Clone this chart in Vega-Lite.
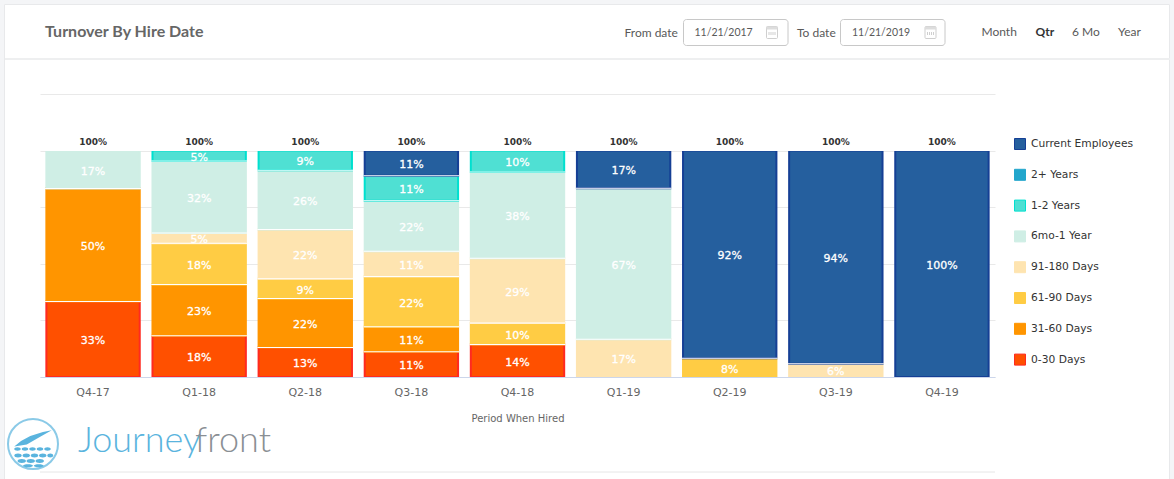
{"$schema":"https://vega.github.io/schema/vega-lite/v6.json","autosize":{"type":"none"},"padding":{"left":40,"top":94,"right":179,"bottom":102},"width":955,"height":283,"background":"#ffffff","config":{"view":{"stroke":null}},"datasets":{"turnover":[
{"quarter":"Q4-17","bucket":"0-30 Days","rank":1,"share":0.333},{"quarter":"Q4-17","bucket":"31-60 Days","rank":2,"share":0.5},{"quarter":"Q4-17","bucket":"6mo-1 Year","rank":5,"share":0.167},
{"quarter":"Q1-18","bucket":"0-30 Days","rank":1,"share":0.182},{"quarter":"Q1-18","bucket":"31-60 Days","rank":2,"share":0.227},{"quarter":"Q1-18","bucket":"61-90 Days","rank":3,"share":0.182},{"quarter":"Q1-18","bucket":"91-180 Days","rank":4,"share":0.045},{"quarter":"Q1-18","bucket":"6mo-1 Year","rank":5,"share":0.318},{"quarter":"Q1-18","bucket":"1-2 Years","rank":6,"share":0.046},
{"quarter":"Q2-18","bucket":"0-30 Days","rank":1,"share":0.13},{"quarter":"Q2-18","bucket":"31-60 Days","rank":2,"share":0.217},{"quarter":"Q2-18","bucket":"61-90 Days","rank":3,"share":0.087},{"quarter":"Q2-18","bucket":"91-180 Days","rank":4,"share":0.217},{"quarter":"Q2-18","bucket":"6mo-1 Year","rank":5,"share":0.262},{"quarter":"Q2-18","bucket":"1-2 Years","rank":6,"share":0.087},
{"quarter":"Q3-18","bucket":"0-30 Days","rank":1,"share":0.111},{"quarter":"Q3-18","bucket":"31-60 Days","rank":2,"share":0.111},{"quarter":"Q3-18","bucket":"61-90 Days","rank":3,"share":0.222},{"quarter":"Q3-18","bucket":"91-180 Days","rank":4,"share":0.111},{"quarter":"Q3-18","bucket":"6mo-1 Year","rank":5,"share":0.223},{"quarter":"Q3-18","bucket":"1-2 Years","rank":6,"share":0.111},{"quarter":"Q3-18","bucket":"Current Employees","rank":8,"share":0.111},
{"quarter":"Q4-18","bucket":"0-30 Days","rank":1,"share":0.143},{"quarter":"Q4-18","bucket":"61-90 Days","rank":3,"share":0.095},{"quarter":"Q4-18","bucket":"91-180 Days","rank":4,"share":0.286},{"quarter":"Q4-18","bucket":"6mo-1 Year","rank":5,"share":0.381},{"quarter":"Q4-18","bucket":"1-2 Years","rank":6,"share":0.095},
{"quarter":"Q1-19","bucket":"91-180 Days","rank":4,"share":0.167},{"quarter":"Q1-19","bucket":"6mo-1 Year","rank":5,"share":0.667},{"quarter":"Q1-19","bucket":"Current Employees","rank":8,"share":0.166},
{"quarter":"Q2-19","bucket":"61-90 Days","rank":3,"share":0.083},{"quarter":"Q2-19","bucket":"Current Employees","rank":8,"share":0.917},
{"quarter":"Q3-19","bucket":"91-180 Days","rank":4,"share":0.059},{"quarter":"Q3-19","bucket":"Current Employees","rank":8,"share":0.941},
{"quarter":"Q4-19","bucket":"Current Employees","rank":8,"share":1}
],"totals":[{"quarter":"Q4-17","total":1},{"quarter":"Q1-18","total":1},{"quarter":"Q2-18","total":1},{"quarter":"Q3-18","total":1},{"quarter":"Q4-18","total":1},{"quarter":"Q1-19","total":1},{"quarter":"Q2-19","total":1},{"quarter":"Q3-19","total":1},{"quarter":"Q4-19","total":1}]},
"layer":[
{"data":{"values":[{}]},"layer":[
{"mark":{"type":"rect","fill":"#f4f5f7"},"encoding":{"x":{"datum":0,"type":"quantitative","scale":{"domain":[40,995]},"axis":null},"x2":{"datum":4},"y":{"datum":0,"type":"quantitative","scale":{"domain":[377,94]},"axis":null},"y2":{"datum":479}}},
{"mark":{"type":"rect","fill":"#f4f5f7"},"encoding":{"x":{"datum":1170,"type":"quantitative","scale":{"domain":[40,995]},"axis":null},"x2":{"datum":1174},"y":{"datum":0,"type":"quantitative","scale":{"domain":[377,94]},"axis":null},"y2":{"datum":479}}},
{"mark":{"type":"rect","fill":"#f4f5f7"},"encoding":{"x":{"datum":0,"type":"quantitative","scale":{"domain":[40,995]},"axis":null},"x2":{"datum":1174},"y":{"datum":0,"type":"quantitative","scale":{"domain":[377,94]},"axis":null},"y2":{"datum":4}}},
{"mark":{"type":"rule","stroke":"#e8e9eb","strokeWidth":1},"encoding":{"x":{"datum":4.5,"type":"quantitative","scale":{"domain":[40,995]},"axis":null},"y":{"datum":4.5,"type":"quantitative","scale":{"domain":[377,94]},"axis":null},"y2":{"datum":479}}},
{"mark":{"type":"rule","stroke":"#e8e9eb","strokeWidth":1},"encoding":{"x":{"datum":1169.5,"type":"quantitative","scale":{"domain":[40,995]},"axis":null},"y":{"datum":4.5,"type":"quantitative","scale":{"domain":[377,94]},"axis":null},"y2":{"datum":479}}},
{"mark":{"type":"rule","stroke":"#e8e9eb","strokeWidth":1},"encoding":{"x":{"datum":4.5,"type":"quantitative","scale":{"domain":[40,995]},"axis":null},"x2":{"datum":1169.5},"y":{"datum":4.5,"type":"quantitative","scale":{"domain":[377,94]},"axis":null}}},
{"mark":{"type":"rule","stroke":"#eeeff0","strokeWidth":2},"encoding":{"x":{"datum":5,"type":"quantitative","scale":{"domain":[40,995]},"axis":null},"x2":{"datum":1170},"y":{"datum":59,"type":"quantitative","scale":{"domain":[377,94]},"axis":null}}},
{"mark":{"type":"rule","stroke":"#e6e6e6","strokeWidth":1},"encoding":{"x":{"datum":40,"type":"quantitative","scale":{"domain":[40,995]},"axis":null},"x2":{"datum":995},"y":{"datum":472,"type":"quantitative","scale":{"domain":[377,94]},"axis":null}}},
{"mark":{"type":"text","text":"Turnover By Hire Date","align":"left","baseline":"middle","font":"Lato","fontSize":16,"fontWeight":"bold","fill":"#666666"},"encoding":{"x":{"datum":45,"type":"quantitative","scale":{"domain":[40,995]},"axis":null},"y":{"datum":32,"type":"quantitative","scale":{"domain":[377,94]},"axis":null}}},
{"mark":{"type":"text","text":"From date","align":"left","baseline":"middle","font":"Lato","fontSize":12,"fill":"#595959"},"encoding":{"x":{"datum":624.5,"type":"quantitative","scale":{"domain":[40,995]},"axis":null},"y":{"datum":33,"type":"quantitative","scale":{"domain":[377,94]},"axis":null}}},
{"mark":{"type":"text","text":"To date","align":"left","baseline":"middle","font":"Lato","fontSize":12,"fill":"#595959"},"encoding":{"x":{"datum":797,"type":"quantitative","scale":{"domain":[40,995]},"axis":null},"y":{"datum":33,"type":"quantitative","scale":{"domain":[377,94]},"axis":null}}},
{"mark":{"type":"rect","fill":"#ffffff","stroke":"#c8c8c8","strokeWidth":1,"cornerRadius":3},"encoding":{"x":{"datum":683.5,"type":"quantitative","scale":{"domain":[40,995]},"axis":null},"x2":{"datum":788},"y":{"datum":19.5,"type":"quantitative","scale":{"domain":[377,94]},"axis":null},"y2":{"datum":45.5}}},
{"mark":{"type":"rect","fill":"#ffffff","stroke":"#c8c8c8","strokeWidth":1,"cornerRadius":3},"encoding":{"x":{"datum":840.5,"type":"quantitative","scale":{"domain":[40,995]},"axis":null},"x2":{"datum":945},"y":{"datum":19.5,"type":"quantitative","scale":{"domain":[377,94]},"axis":null},"y2":{"datum":45.5}}},
{"mark":{"type":"text","text":"11/21/2017","align":"left","baseline":"middle","font":"Lato","fontSize":10.5,"fill":"#595959"},"encoding":{"x":{"datum":694.5,"type":"quantitative","scale":{"domain":[40,995]},"axis":null},"y":{"datum":32.5,"type":"quantitative","scale":{"domain":[377,94]},"axis":null}}},
{"mark":{"type":"text","text":"11/21/2019","align":"left","baseline":"middle","font":"Lato","fontSize":10.5,"fill":"#595959"},"encoding":{"x":{"datum":852,"type":"quantitative","scale":{"domain":[40,995]},"axis":null},"y":{"datum":32.5,"type":"quantitative","scale":{"domain":[377,94]},"axis":null}}},
{"mark":{"type":"rect","fill":"#ffffff","stroke":"#cfcfcf","strokeWidth":1,"cornerRadius":1},"encoding":{"x":{"datum":766.5,"type":"quantitative","scale":{"domain":[40,995]},"axis":null},"x2":{"datum":777.5},"y":{"datum":26.5,"type":"quantitative","scale":{"domain":[377,94]},"axis":null},"y2":{"datum":38.5}}},
{"mark":{"type":"rect","fill":"#ffffff","stroke":"#cfcfcf","strokeWidth":1,"cornerRadius":1},"encoding":{"x":{"datum":925,"type":"quantitative","scale":{"domain":[40,995]},"axis":null},"x2":{"datum":936},"y":{"datum":26.5,"type":"quantitative","scale":{"domain":[377,94]},"axis":null},"y2":{"datum":38.5}}},
{"mark":{"type":"rect","fill":"#dddddd"},"encoding":{"x":{"datum":766.5,"type":"quantitative","scale":{"domain":[40,995]},"axis":null},"x2":{"datum":777.5},"y":{"datum":26.5,"type":"quantitative","scale":{"domain":[377,94]},"axis":null},"y2":{"datum":29.5}}},
{"mark":{"type":"rect","fill":"#dddddd"},"encoding":{"x":{"datum":925,"type":"quantitative","scale":{"domain":[40,995]},"axis":null},"x2":{"datum":936},"y":{"datum":26.5,"type":"quantitative","scale":{"domain":[377,94]},"axis":null},"y2":{"datum":29.5}}},
{"mark":{"type":"rule","stroke":"#cfcfcf","strokeWidth":3,"strokeDash":[1,1]},"encoding":{"x":{"datum":768.5,"type":"quantitative","scale":{"domain":[40,995]},"axis":null},"x2":{"datum":775.5},"y":{"datum":33.5,"type":"quantitative","scale":{"domain":[377,94]},"axis":null}}},
{"mark":{"type":"rule","stroke":"#cfcfcf","strokeWidth":3,"strokeDash":[1,1]},"encoding":{"x":{"datum":927,"type":"quantitative","scale":{"domain":[40,995]},"axis":null},"x2":{"datum":934},"y":{"datum":33.5,"type":"quantitative","scale":{"domain":[377,94]},"axis":null}}},
{"mark":{"type":"text","text":"Month","align":"left","baseline":"middle","font":"Lato","fontSize":12,"fill":"#595959"},"encoding":{"x":{"datum":981.5,"type":"quantitative","scale":{"domain":[40,995]},"axis":null},"y":{"datum":32,"type":"quantitative","scale":{"domain":[377,94]},"axis":null}}},
{"mark":{"type":"text","text":"Qtr","align":"left","baseline":"middle","font":"Lato","fontSize":12,"fontWeight":"bold","fill":"#333333"},"encoding":{"x":{"datum":1035.5,"type":"quantitative","scale":{"domain":[40,995]},"axis":null},"y":{"datum":32,"type":"quantitative","scale":{"domain":[377,94]},"axis":null}}},
{"mark":{"type":"text","text":"6 Mo","align":"left","baseline":"middle","font":"Lato","fontSize":12,"fill":"#595959"},"encoding":{"x":{"datum":1072,"type":"quantitative","scale":{"domain":[40,995]},"axis":null},"y":{"datum":32,"type":"quantitative","scale":{"domain":[377,94]},"axis":null}}},
{"mark":{"type":"text","text":"Year","align":"left","baseline":"middle","font":"Lato","fontSize":12,"fill":"#595959"},"encoding":{"x":{"datum":1118,"type":"quantitative","scale":{"domain":[40,995]},"axis":null},"y":{"datum":32,"type":"quantitative","scale":{"domain":[377,94]},"axis":null}}},
{"mark":{"type":"point","shape":"circle","filled":false,"stroke":"#5ab4de","strokeWidth":2,"size":2500},"encoding":{"x":{"datum":33,"type":"quantitative","scale":{"domain":[40,995]},"axis":null},"y":{"datum":444,"type":"quantitative","scale":{"domain":[377,94]},"axis":null}}},
{"mark":{"type":"point","filled":true,"fill":"#5ab4de","strokeWidth":0,"size":2500,"opacity":1,"shape":"M-.75 .1Q-.2 -.42 .75 -.55Q.3 -.3 -.25 .02Z M-.75 .2A.13 .07 0 1 0 -.49 .2A.13 .07 0 1 0 -.75 .2Z M-.45 .2A.13 .07 0 1 0 -.19 .2A.13 .07 0 1 0 -.45 .2Z M-.15 .2A.13 .07 0 1 0 .11 .2A.13 .07 0 1 0 -.15 .2Z M.15 .2A.13 .07 0 1 0 .41 .2A.13 .07 0 1 0 .15 .2Z M.45 .2A.13 .07 0 1 0 .71 .2A.13 .07 0 1 0 .45 .2Z M-.75 .46A.15 .08 0 1 0 -.45 .46A.15 .08 0 1 0 -.75 .46Z M-.42 .46A.15 .08 0 1 0 -.12 .46A.15 .08 0 1 0 -.42 .46Z M-.09 .46A.15 .08 0 1 0 .21 .46A.15 .08 0 1 0 -.09 .46Z M.24 .46A.15 .08 0 1 0 .54 .46A.15 .08 0 1 0 .24 .46Z M.57 .46A.12 .08 0 1 0 .81 .46A.12 .08 0 1 0 .57 .46Z M-.62 .68A.17 .08 0 1 0 -.28 .68A.17 .08 0 1 0 -.62 .68Z M-.26 .68A.17 .08 0 1 0 .08 .68A.17 .08 0 1 0 -.26 .68Z M.1 .68A.17 .08 0 1 0 .44 .68A.17 .08 0 1 0 .1 .68Z M-.4 .87A.2 .06 0 1 0 0 .87A.2 .06 0 1 0 -.4 .87Z M.03 .87A.2 .06 0 1 0 .43 .87A.2 .06 0 1 0 .03 .87Z"},"encoding":{"x":{"datum":33,"type":"quantitative","scale":{"domain":[40,995]},"axis":null},"y":{"datum":444,"type":"quantitative","scale":{"domain":[377,94]},"axis":null}}},
{"mark":{"type":"text","text":"Journey","align":"left","baseline":"alphabetic","font":"Lato","fontSize":36,"fontWeight":300,"fill":"#5ab4de"},"encoding":{"x":{"datum":78,"type":"quantitative","scale":{"domain":[40,995]},"axis":null},"y":{"datum":452,"type":"quantitative","scale":{"domain":[377,94]},"axis":null}}},
{"mark":{"type":"text","text":"front","align":"left","baseline":"alphabetic","font":"Lato","fontSize":36,"fontWeight":300,"fill":"#8a8f94"},"encoding":{"x":{"datum":195,"type":"quantitative","scale":{"domain":[40,995]},"axis":null},"y":{"datum":452,"type":"quantitative","scale":{"domain":[377,94]},"axis":null}}}
]},
{"layer":[
{"data":{"name":"turnover"},"mark":{"type":"bar","strokeWidth":2},"encoding":{"x":{"field":"quarter","type":"nominal","sort":["Q4-17","Q1-18","Q2-18","Q3-18","Q4-18","Q1-19","Q2-19","Q3-19","Q4-19"],"scale":{"paddingInner":0.12,"paddingOuter":0.06},"axis":{"title":"Period When Hired","titleFont":"DejaVu Sans","titleFontSize":10,"titleFontWeight":"normal","titleColor":"#666666","titlePadding":16,"labelFont":"DejaVu Sans","labelFontSize":11,"labelColor":"#666666","labelAngle":0,"labelPadding":9,"ticks":false,"domainColor":"#ccd6eb","domainWidth":1,"grid":false,"zindex":1}},"y":{"field":"share","type":"quantitative","stack":"zero","scale":{"domain":[0,1.25],"nice":false},"axis":{"title":null,"labels":false,"ticks":false,"domain":false,"values":[0,0.25,0.5,0.75,1,1.25],"grid":true,"gridColor":"#e9e9e9"}},"order":{"field":"rank","type":"quantitative"},"fill":{"field":"bucket","type":"nominal","scale":{"domain":["Current Employees","2+ Years","1-2 Years","6mo-1 Year","91-180 Days","61-90 Days","31-60 Days","0-30 Days"],"range":["#255f9e","#22a6cc","#4fe0d3","#cfeee5","#fee4b0","#ffcc44","#ff9500","#ff5000"]},"legend":{"title":null,"orient":"none","legendX":974,"legendY":44,"symbolType":"square","symbolSize":121,"symbolStrokeWidth":1,"labelFont":"DejaVu Sans","labelFontSize":10.7,"labelColor":"#333333","rowPadding":14.8,"labelOffset":5}},"stroke":{"field":"bucket","type":"nominal","scale":{"domain":["Current Employees","2+ Years","1-2 Years","6mo-1 Year","91-180 Days","61-90 Days","31-60 Days","0-30 Days"],"range":["#153f95","#22a6cc","#00e0cf","#cfeee5","#fee4b0","#ffcc44","#ff9500","#ff2a20"]},"legend":{"title":null,"orient":"none","legendX":974,"legendY":44}}}},
{"data":{"name":"turnover"},"mark":{"type":"tick","color":"#ffffff","thickness":1,"opacity":1,"size":96},"encoding":{"x":{"field":"quarter","type":"nominal","sort":["Q4-17","Q1-18","Q2-18","Q3-18","Q4-18","Q1-19","Q2-19","Q3-19","Q4-19"]},"y":{"field":"share","type":"quantitative","stack":"zero"},"order":{"field":"rank","type":"quantitative"},"detail":{"field":"bucket"}}},
{"data":{"name":"totals"},"mark":{"type":"tick","color":"#ffffff","thickness":2,"opacity":1,"size":98,"yOffset":-0.5},"encoding":{"x":{"field":"quarter","type":"nominal","sort":["Q4-17","Q1-18","Q2-18","Q3-18","Q4-18","Q1-19","Q2-19","Q3-19","Q4-19"]},"y":{"field":"total","type":"quantitative"}}},
{"data":{"name":"turnover"},"mark":{"type":"text","baseline":"middle","dy":2,"font":"DejaVu Sans","fontSize":11,"fill":"#ffffff","stroke":"#ffffff","strokeWidth":0.3},"encoding":{"x":{"field":"quarter","type":"nominal","sort":["Q4-17","Q1-18","Q2-18","Q3-18","Q4-18","Q1-19","Q2-19","Q3-19","Q4-19"]},"y":{"field":"share","type":"quantitative","stack":"zero","bandPosition":0.5},"order":{"field":"rank","type":"quantitative"},"detail":{"field":"bucket"},"text":{"field":"share","type":"quantitative","format":".0%"}}},
{"data":{"name":"totals"},"mark":{"type":"text","baseline":"middle","dy":-9,"font":"DejaVu Sans","fontSize":9,"fontWeight":"bold","fill":"#333333"},"encoding":{"x":{"field":"quarter","type":"nominal","sort":["Q4-17","Q1-18","Q2-18","Q3-18","Q4-18","Q1-19","Q2-19","Q3-19","Q4-19"]},"y":{"field":"total","type":"quantitative"},"text":{"field":"total","type":"quantitative","format":".0%"}}}
]}
],"resolve":{"scale":{"x":"independent","y":"independent"},"axis":{"x":"independent","y":"independent"}}}
